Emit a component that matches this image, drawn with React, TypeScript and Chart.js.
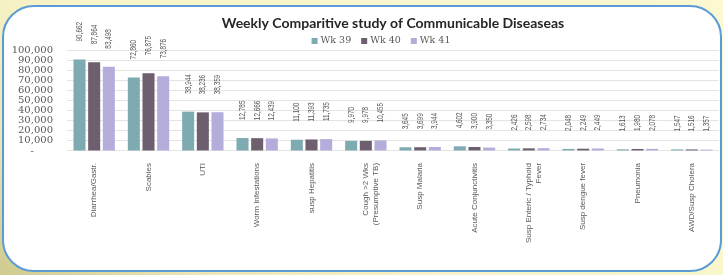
import React, { useEffect, useRef } from "react";
import { Chart, registerables } from "chart.js";

Chart.register(...registerables);

const categories: (string | string[])[] = [
  "Diarrhea/Gastr.",
  "Scabies",
  "UTI",
  "Worm Infestations",
  "susp Hepatitis",
  ["Cough >2 Wks", "(Presumptive TB)"],
  "Susp Malaria",
  "Acute Conjunctivitis",
  ["Susp Enteric / Typhoid", "Fever"],
  "Susp dengue fever",
  "Pneumonia",
  "AWD/Susp Cholera",
];

const wk39 = [90662, 72860, 38944, 12785, 11100, 9970, 3645, 4602, 2426, 2048, 1613, 1547];
const wk40 = [87864, 76875, 38236, 12666, 11393, 9978, 3699, 3900, 2598, 2249, 1980, 1516];
const wk41 = [83498, 73876, 38359, 12439, 11735, 10455, 3944, 3350, 2734, 2449, 2078, 1357];

const seriesNames = ["Wk 39", "Wk 40", "Wk 41"];
const seriesColors = ["#7eaab2", "#6d5f6e", "#b4acdb"];
const chartTitle = "Weekly Comparitive study of Communicable Diseaseas";

const fmt = (v: number) => v.toLocaleString("en-US");

const labelPlugin = {
  id: "barValueLabels",
  afterDatasetsDraw(chart: any) {
    const ctx = chart.ctx;
    ctx.save();
    ctx.font = "8.5px 'Liberation Sans', sans-serif";
    ctx.fillStyle = "#595959";
    ctx.textAlign = "left";
    ctx.textBaseline = "middle";
    chart.data.datasets.forEach((ds: any, di: number) => {
      const meta = chart.getDatasetMeta(di);
      meta.data.forEach((bar: any, i: number) => {
        const v = ds.data[i];
        ctx.save();
        ctx.translate(bar.x, bar.y - 18);
        ctx.rotate(-Math.PI / 2);
        ctx.scale(0.75, 1);
        ctx.fillText(fmt(v), 0, 0);
        ctx.restore();
      });
    });
    ctx.restore();
  },
};

const titleLegendPlugin = {
  id: "titleLegend",
  afterDraw(chart: any) {
    const ctx = chart.ctx;
    const { left, right } = chart.chartArea;
    const cx = (left + right) / 2;
    ctx.save();
    ctx.font = "bold 14px Lato, 'Liberation Sans', sans-serif";
    ctx.fillStyle = "#262626";
    ctx.textAlign = "center";
    ctx.textBaseline = "middle";
    ctx.fillText(chartTitle, cx, 23);

    // legend
    ctx.font = "9.5px 'DejaVu Serif', serif";
    ctx.textAlign = "left";
    const box = 6;
    const gapBoxText = 3;
    const gapItems = 10;
    const items = chart.data.datasets.map((ds: any) => ({
      text: ds.label,
      color: ds.backgroundColor,
      w: box + gapBoxText + ctx.measureText(ds.label).width,
    }));
    const total = items.reduce((s: number, it: any) => s + it.w, 0) + gapItems * (items.length - 1);
    let x = cx - 12 - total / 2;
    const y = 41;
    items.forEach((it: any) => {
      ctx.fillStyle = it.color;
      ctx.fillRect(x, y - box / 2, box, box);
      ctx.fillStyle = "#595959";
      ctx.fillText(it.text, x + box + gapBoxText, y);
      x += it.w + gapItems;
    });
    ctx.restore();
  },
};

export default function App() {
  const canvasRef = useRef<HTMLCanvasElement | null>(null);

  useEffect(() => {
    if (!canvasRef.current) return;
    const chart = new Chart(canvasRef.current, {
      type: "bar",
      data: {
        labels: categories,
        datasets: [wk39, wk40, wk41].map((d, i) => ({
          label: seriesNames[i],
          data: d,
          backgroundColor: seriesColors[i],
          borderWidth: 0,
          barPercentage: 0.82,
          categoryPercentage: 0.81,
        })),
      },
      options: {
        animation: false,
        responsive: false,
        maintainAspectRatio: false,
        layout: { padding: { left: 6, right: 4, top: 50, bottom: 28 } },
        plugins: {
          title: { display: false },
          legend: { display: false },
          tooltip: { enabled: false },
        },
        scales: {
          x: {
            grid: { display: false },
            border: { display: false },
            ticks: {
              maxRotation: 90,
              minRotation: 90,
              color: "#595959",
              font: { family: "'Liberation Sans', sans-serif", size: 8 },
              padding: 4,
              autoSkip: false,
            },
          },
          y: {
            min: 0,
            max: 100000,
            grid: { color: "#e4e4e4", drawTicks: false },
            border: { display: false },
            afterFit: (scale: any) => {
              scale.width = 61;
            },
            ticks: {
              stepSize: 10000,
              autoSkip: false,
              padding: 14,
              color: "#595959",
              font: { family: "'DejaVu Serif', serif", size: 10 },
              callback: (v: any) => (Number(v) === 0 ? "-      " : fmt(Number(v))),
            },
          },
        },
      },
      plugins: [labelPlugin, titleLegendPlugin],
    });
    return () => chart.destroy();
  }, []);

  return (
    <div
      style={{
        position: "fixed",
        left: 0,
        top: 0,
        width: 723,
        height: 275,
        overflow: "hidden",
        background: "linear-gradient(35deg, #cfca8e 0%, #ece7b4 18%, #f8f4c8 40%, #fbf8d2 100%)",
      }}
    >
      <div
        style={{
          position: "absolute",
          left: 2,
          top: 5,
          width: 716,
          height: 263,
          border: "2px solid #5b9bd5",
          borderRadius: 32,
          background: "#ffffff",
        }}
      />
      <canvas
        ref={canvasRef}
        width={723}
        height={275}
        style={{ position: "absolute", left: 0, top: 0, width: 723, height: 275 }}
      />
    </div>
  );
}
